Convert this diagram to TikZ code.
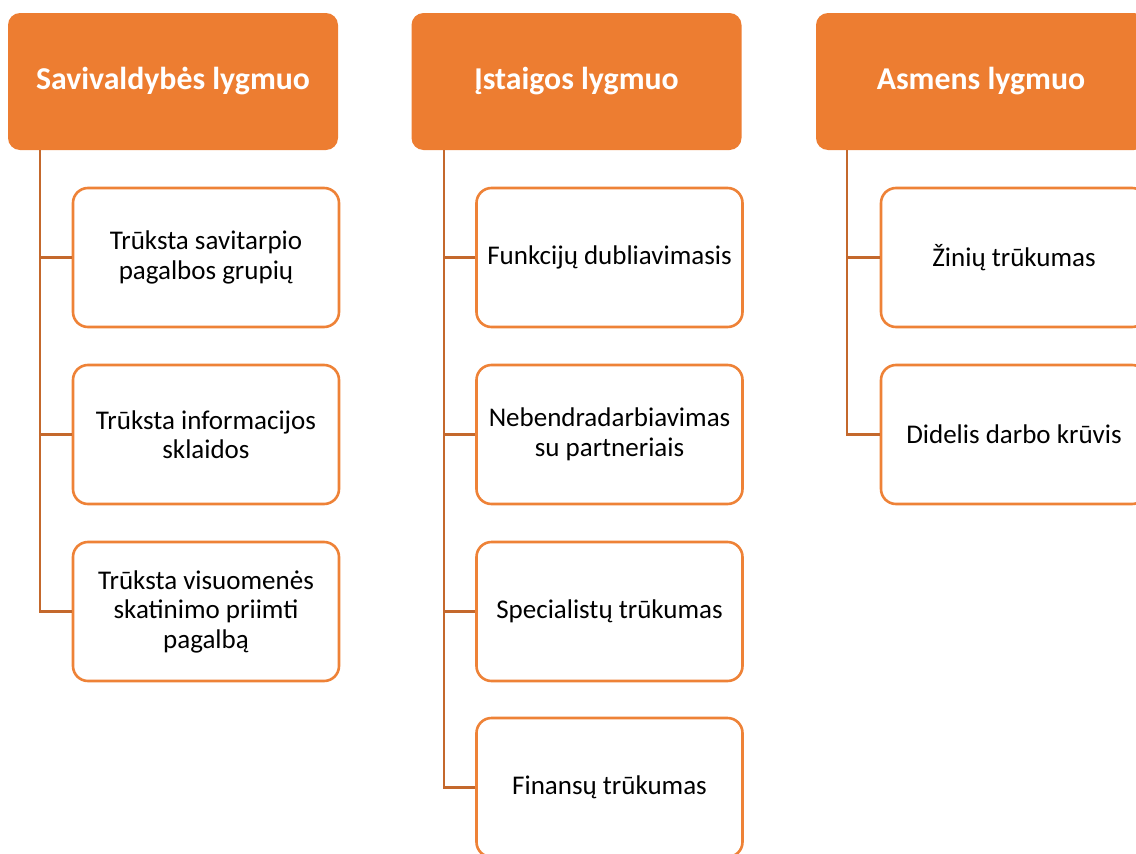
\documentclass[tikz,border=0pt]{standalone}
\usepackage{fontspec}
\setmainfont{Carlito}

\definecolor{levelfill}{RGB}{237,125,49}
\definecolor{itemline}{RGB}{238,130,55}
\definecolor{treeline}{RGB}{196,104,44}

\tikzset{
  level/.style={fill=levelfill, rounded corners=12pt, minimum width=330pt, minimum height=137pt,
    text=white, font=\fontsize{31.8}{36}\selectfont\bfseries, align=center},
  item/.style={draw=itemline, line width=2.6pt, fill=white, rounded corners=15pt,
    minimum width=266pt, minimum height=139pt, font=\fontsize{27}{29.5}\selectfont, align=center},
  conn/.style={draw=treeline, line width=2.4pt}
}

\begin{document}
\begin{tikzpicture}[x=1pt,y=-1pt]
\useasboundingbox (0,0) rectangle (1136,854);
\clip (0,0) rectangle (1136,854);
% level headers
\node[level] (lvA) at (173,81.5){Savivaldybės lygmuo};
\node[level] (lvB) at (576.5,81.5){Įstaigos lygmuo};
\node[level] (lvC) at (981,81.5){Asmens lygmuo};
% trunk starts
\coordinate (tA) at (40,150);
\coordinate (tB) at (444,150);
\coordinate (tC) at (847,150);
% first column
\node[item] (a1) at (206,257.5){Trūksta savitarpio\\pagalbos grupių};
\node[item] (a2) at (206,434.5){Trūksta informacijos\\sklaidos};
\node[item] (a3) at (206,611.5){Trūksta visuomenės\\skatinimo priimti\\pagalbą};
% second column
\node[item] (b1) at (609.5,257.5){Funkcijų dubliavimasis};
\node[item] (b2) at (609.5,434.5){Nebendradarbiavimas\\su partneriais};
\node[item] (b3) at (609.5,611.5){Specialistų trūkumas};
\node[item] (b4) at (609.5,787.5){Finansų trūkumas};
% third column
\node[item] (c1) at (1014,257.5){Žinių trūkumas};
\node[item] (c2) at (1014,434.5){Didelis darbo krūvis};
% connectors
\draw[conn] (tA) |- (a3.west);
\draw[conn] (a1.west) -- (a1.west -| tA);
\draw[conn] (a2.west) -- (a2.west -| tA);
\draw[conn] (tB) |- (b4.west);
\draw[conn] (b1.west) -- (b1.west -| tB);
\draw[conn] (b2.west) -- (b2.west -| tB);
\draw[conn] (b3.west) -- (b3.west -| tB);
\draw[conn] (tC) |- (c2.west);
\draw[conn] (c1.west) -- (c1.west -| tC);
\end{tikzpicture}
\end{document}
